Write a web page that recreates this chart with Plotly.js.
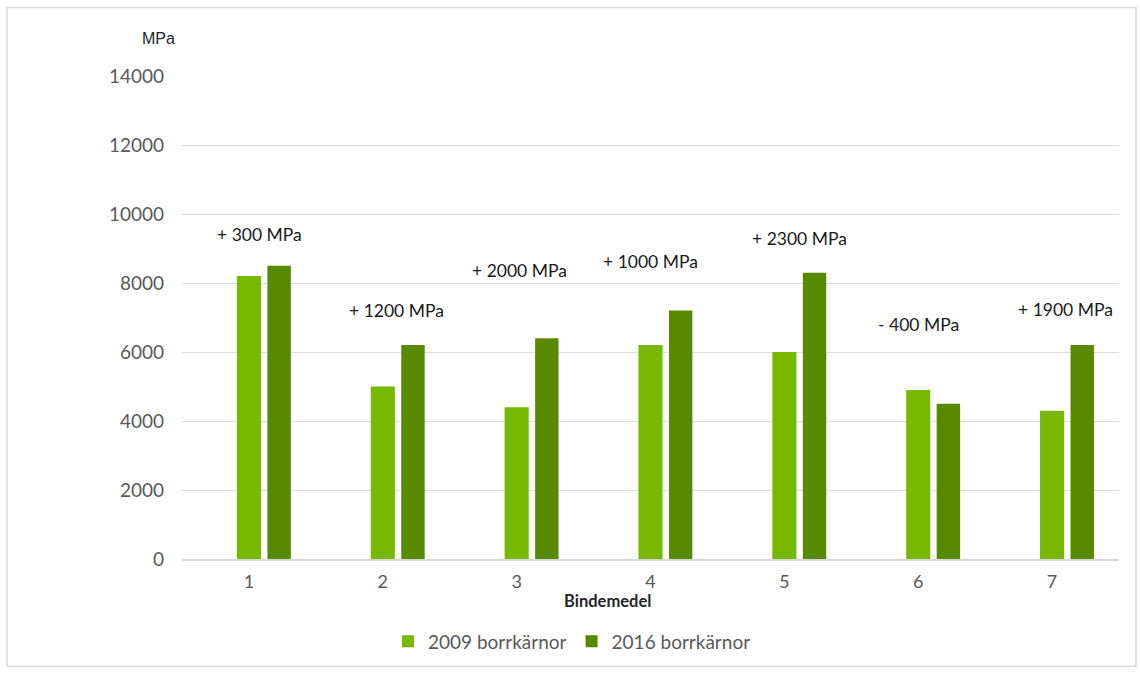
<!DOCTYPE html>
<html>
<head>
<meta charset="utf-8">
<script src="https://cdn.plot.ly/plotly-3.0.1.min.js"></script>
<style>html,body{margin:0;padding:0;background:#fff;}#chart{width:1140px;height:673px;}</style>
</head>
<body>
<div id="chart"></div>
<script>
// Data
const categories = ["1", "2", "3", "4", "5", "6", "7"];
const values2009 = [8200, 5000, 4400, 6200, 6000, 4900, 4300];
const values2016 = [8500, 6200, 6400, 7200, 8300, 4500, 6200];
const seriesNames = ["2009 borrkärnor", "2016 borrkärnor"];
const diffLabels = ["+ 300 MPa", "+ 1200 MPa", "+ 2000 MPa", "+ 1000 MPa", "+ 2300 MPa", "- 400 MPa", "+ 1900 MPa"];
const yTickVals = [0, 2000, 4000, 6000, 8000, 10000, 12000, 14000];
const xTitle = "Bindemedel";
const yUnit = "MPa";

// Label placement (style)
const labelDx = [0.08, 0.10, 0.02, 0.0, 0.11, 0.0, 0.10];
const labelY = [9410, 7200, 8350, 8610, 9290, 6790, 7230];

const traces = [
  {type: "bar", name: seriesNames[0], x: categories, y: values2009,
   marker: {color: "#78B800"}, offset: -0.09, width: 0.18, hoverinfo: "skip"},
  {type: "bar", name: seriesNames[1], x: categories, y: values2016,
   marker: {color: "#588A00"}, offset: 0.138, width: 0.175, hoverinfo: "skip"}
];

const annotations = diffLabels.map((t, i) => ({
  text: t, x: i + labelDx[i], y: labelY[i], xref: "x", yref: "y",
  showarrow: false, xanchor: "center", yanchor: "middle",
  font: {family: "Lato, 'Open Sans', sans-serif", size: 17.5, color: "#1a1a1a"}
}));
annotations.push({
  text: yUnit, xref: "paper", yref: "paper", x: (158 - 182) / 937, y: (562 - 38) / 486,
  showarrow: false, xanchor: "center", yanchor: "middle",
  font: {family: "'Liberation Sans', Arial, sans-serif", size: 16, color: "#262626"}
});
annotations.push({
  text: "<b>" + xTitle + "</b>", xref: "paper", yref: "paper", x: (607 - 182) / 937, y: (562 - 604) / 486,
  showarrow: false, xanchor: "center", yanchor: "middle",
  font: {family: "Lato, 'Open Sans', sans-serif", size: 16.5, color: "#262626"}
});

const layout = {
  width: 1140, height: 673,
  margin: {l: 182, r: 21, t: 76, b: 111, pad: 0},
  paper_bgcolor: "#ffffff", plot_bgcolor: "#ffffff",
  barmode: "group",
  showlegend: true,
  legend: {orientation: "h", x: (388 - 182) / 937, xanchor: "left", y: (562 - 645) / 486, yanchor: "middle",
    font: {family: "Lato, 'Open Sans', sans-serif", size: 19, color: "#595959"}, bgcolor: "rgba(0,0,0,0)"},
  xaxis: {type: "category", range: [-0.5, 6.5], showgrid: false, zeroline: false,
    showline: true, linecolor: "#D6D6D6", linewidth: 1.5, ticks: "",
    tickfont: {family: "Lato, 'Open Sans', sans-serif", size: 18, color: "#595959"},
    ticklabelstandoff: 6, fixedrange: true},
  yaxis: {range: [0, 14000], tickvals: yTickVals, ticktext: yTickVals.map(String),
    showgrid: true, gridcolor: "#DDDDDD", gridwidth: 1, zeroline: false, showline: false,
    ticks: "", tickfont: {family: "Lato, 'Open Sans', sans-serif", size: 19, color: "#595959"},
    ticklabelstandoff: 17, fixedrange: true},
  annotations: annotations,
  shapes: [{type: "rect", xref: "paper", yref: "paper",
    x0: (7 - 182) / 937, x1: (1136 - 182) / 937, y0: (562 - 670) / 486, y1: (562 - 7) / 486,
    line: {color: "#D9D9D9", width: 1.5}, fillcolor: "rgba(0,0,0,0)", layer: "below"}]
};

Plotly.newPlot("chart", traces, layout, {staticPlot: true, displayModeBar: false});
</script>
</body>
</html>
